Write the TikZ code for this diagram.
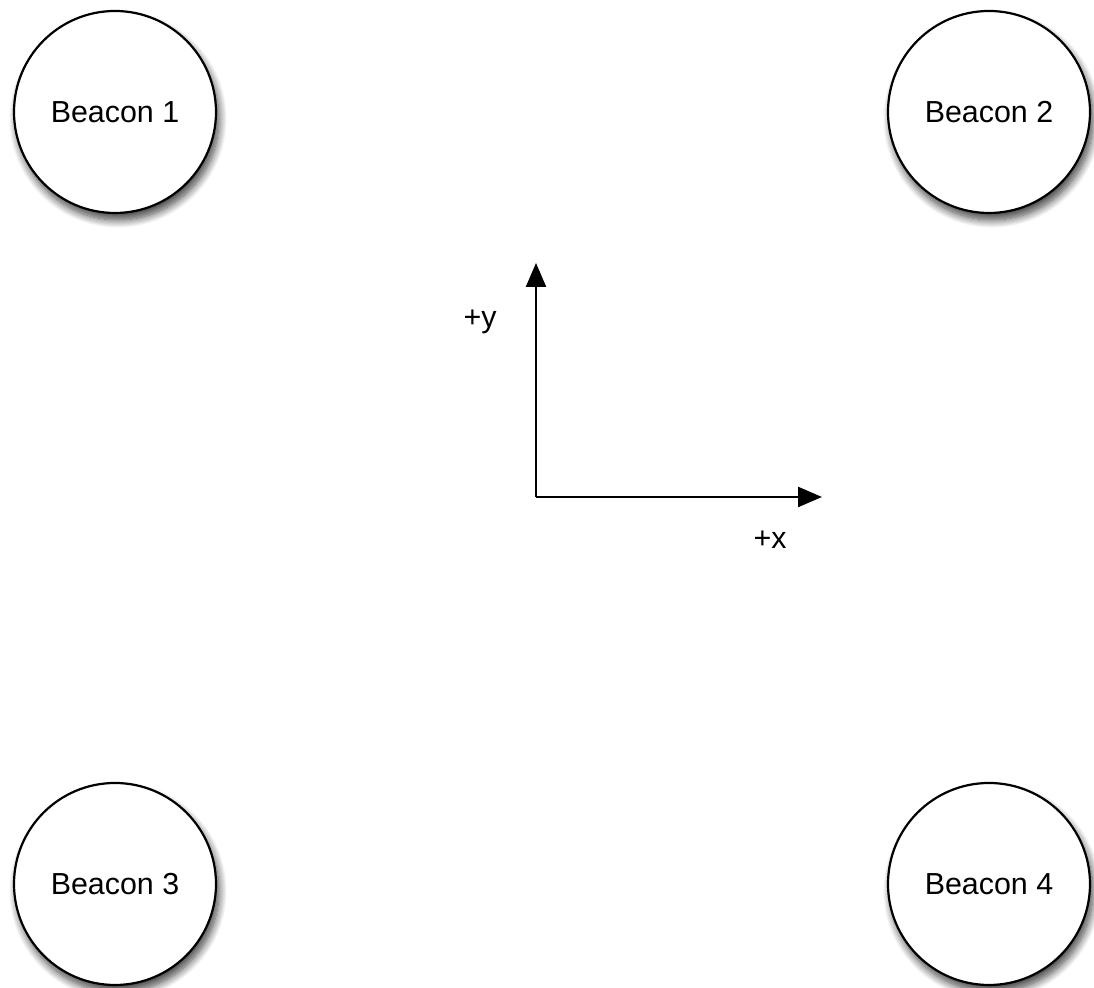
\documentclass[tikz,border=0pt]{standalone}
\usepackage{fontspec}
\setmainfont{Liberation Sans}
\usetikzlibrary{arrows.meta, positioning, shadows.blur}

\begin{document}
\begin{tikzpicture}[
    x=0.5pt, y=0.5pt,
    beacon/.style={circle, draw, line width=1.1pt, fill=white, minimum size=101pt,
      inner sep=0pt, font=\fontsize{15.2}{18}\selectfont,
      blur shadow={shadow xshift=1.5pt, shadow yshift=-3.5pt, shadow blur radius=4pt,
        shadow blur steps=12, shadow opacity=75}},
    axis/.style={-{Triangle[length=12pt, width=10pt]}, line width=1.2pt},
    axislabel/.style={font=\fontsize{15.2}{18}\selectfont, inner sep=0pt}
  ]
    \useasboundingbox (0,0) rectangle (1094,988);

    % Beacons
    \node[beacon] (b1) at (115,876) {Beacon 1};
    \node[beacon] (b2) at (989,876) {Beacon 2};
    \node[beacon] (b3) at (115,104) {Beacon 3};
    \node[beacon] (b4) at (989,104) {Beacon 4};

    % Axes
    \coordinate (origin) at (536,491);
    \coordinate (xtip) at (822,491);
    \coordinate (ytip) at (536,725);
    \node[axislabel] (ylabel) at (480,666) {+y};
    \node[axislabel] (xlabel) at (770,448) {+x};

    \draw[axis] (origin) -- (ytip);
    \draw[axis] (origin) -- (xtip);
  \end{tikzpicture}
\end{document}
